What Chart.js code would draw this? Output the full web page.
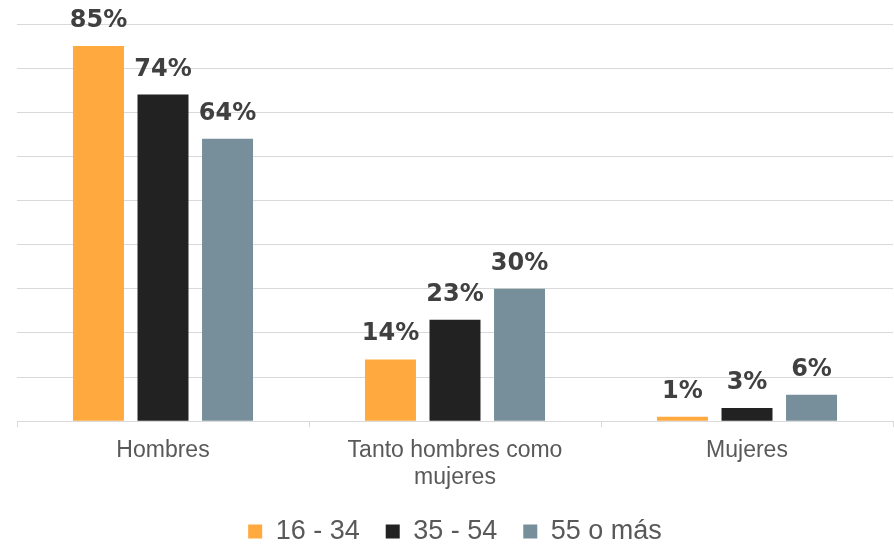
<!DOCTYPE html>
<html>
<head>
<meta charset="utf-8">
<script src="https://cdn.jsdelivr.net/npm/chart.js@4/dist/chart.umd.min.js"></script>
<style>
  html, body { margin: 0; padding: 0; background: #fff; }
  #wrap { width: 894px; height: 544px; }
</style>
</head>
<body>
<div id="wrap"><canvas id="chart" width="894" height="544"></canvas></div>
<script>
// datos
const categorias = ["Hombres", ["Tanto hombres como", "mujeres"], "Mujeres"];
const grupo1 = [85, 14, 1];   // 16 - 34
const grupo2 = [74, 23, 3];   // 35 - 54
const grupo3 = [64, 30, 6];   // 55 o más
const nombresSeries = ["16 - 34", "35 - 54", "55 o más"];
const colores = ["#ffa93f", "#222222", "#778f9b"];

// etiquetas de valor encima de cada barra
const etiquetasPlugin = {
  id: "etiquetas",
  afterDatasetsDraw(chart) {
    const ctx = chart.ctx;
    ctx.save();
    ctx.font = "bold 24px 'DejaVu Sans', sans-serif";
    ctx.fillStyle = "#404040";
    ctx.textAlign = "center";
    ctx.textBaseline = "alphabetic";
    chart.data.datasets.forEach(function(ds, i) {
      const meta = chart.getDatasetMeta(i);
      meta.data.forEach(function(bar, j) {
        ctx.fillText(ds.data[j] + "%", bar.x, bar.y - 19);
      });
    });
    ctx.restore();
  }
};

const series = [grupo1, grupo2, grupo3];
const datasets = [];
for (let i = 0; i < series.length; i++) {
  datasets.push({
    label: nombresSeries[i],
    data: series[i],
    backgroundColor: colores[i],
    borderWidth: 0,
    categoryPercentage: 0.663,
    barPercentage: 0.79
  });
}

const config = {
  type: "bar",
  data: { labels: categorias, datasets: datasets },
  plugins: [etiquetasPlugin],
  options: {
    responsive: false,
    animation: false,
    layout: { padding: { left: 17, right: 1, top: 24, bottom: -11 } },
    plugins: {
      tooltip: { enabled: false },
      legend: {
        position: "bottom",
        labels: {
          boxWidth: 14,
          boxHeight: 14,
          padding: 26,
          color: "#595959",
          font: { family: "'Liberation Sans', Arial, sans-serif", size: 27 }
        }
      }
    },
    scales: {
      x: {
        afterFit: function(scale) { scale.height -= 9; },
        grid: {
          display: true,
          drawOnChartArea: false,
          drawTicks: true,
          tickLength: 6,
          color: "#d9d9d9",
          offset: true
        },
        border: { color: "#d9d9d9", width: 1 },
        ticks: {
          color: "#595959",
          padding: 10,
          font: { family: "'Liberation Sans', Arial, sans-serif", size: 23, lineHeight: 1.17 }
        }
      },
      y: {
        display: true,
        min: 0,
        max: 90,
        ticks: { display: false, stepSize: 10 },
        grid: { color: "#d9d9d9", lineWidth: 1, drawTicks: false },
        border: { display: false }
      }
    }
  }
};

new Chart(document.getElementById("chart"), config);
</script>
</body>
</html>
